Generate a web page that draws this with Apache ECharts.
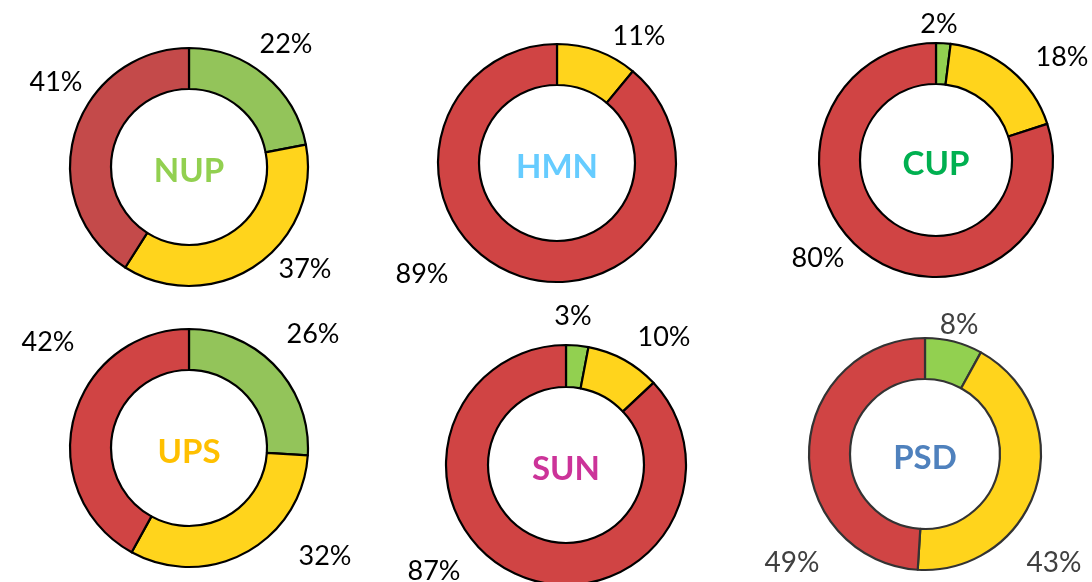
<!DOCTYPE html>
<html>
<head>
<meta charset="utf-8">
<script src="https://cdn.jsdelivr.net/npm/echarts@6/dist/echarts.min.js"></script>
<style>
  html, body { margin: 0; padding: 0; background: #fff; }
  #chart-panel { width: 1092px; height: 582px; }
</style>
</head>
<body>
<div id="chart-panel"></div>
<script>
// data (shares in %)
const units = ["NUP", "HMN", "CUP", "UPS", "SUN", "PSD"]
const nupStatus = ["Green", "Yellow", "Red"]
const nupShares = [22, 37, 41]
const hmnStatus = ["Yellow", "Red"]
const hmnShares = [11, 89]
const cupStatus = ["Green", "Yellow", "Red"]
const cupShares = [2, 18, 80]
const upsStatus = ["Green", "Yellow", "Red"]
const upsShares = [26, 32, 42]
const sunStatus = ["Green", "Yellow", "Red"]
const sunShares = [3, 10, 87]
const psdStatus = ["Green", "Yellow", "Red"]
const psdShares = [8, 43, 49]

const statusList = [nupStatus, hmnStatus, cupStatus, upsStatus, sunStatus, psdStatus]
const sharesList = [nupShares, hmnShares, cupShares, upsShares, sunShares, psdShares]

// look
const sliceColor = {
  Green: "#92D050",
  Yellow: "#FFD41C",
  Red: "#D04444"
}
const nameColor = ["#92D050", "#66CCFF", "#00B050", "#FFC000", "#CC3399", "#4F81BD"]
const centers = [[189, 167], [557, 163], [936, 160], [189, 448], [566, 465], [925, 454]]
const radii = [[78, 119], [78, 119], [76, 117], [78, 119], [78, 120], [75, 116]]
// where each percent label sits, relative to the donut centre
const labelSpots = [
  [[97, -123], [116, 102], [-133, -85]],
  [[82, -127], [-135, 111]],
  [[3, -136], [126, -103], [-118, 98]],
  [[124, -114], [136, 108], [-141, -106]],
  [[7, -149], [98, -128], [-132, 106]],
  [[34, -129], [129, 109], [-133, 109]]
]

const chart = echarts.init(document.getElementById("chart-panel"), null, { renderer: "canvas" })

const series = units.map((u, k) => {
  const c = centers[k]
  const isPsd = u === "PSD"
  const isOld = u === "NUP"
  const mutedGreen = u === "NUP" || u === "UPS"
  return {
    type: "pie",
    name: u,
    center: c,
    radius: radii[k],
    startAngle: 90,
    clockwise: true,
    avoidLabelOverlap: false,
    silent: true,
    animation: false,
    itemStyle: {
      borderColor: isPsd ? "#333333" : "#000000",
      borderWidth: 2.2
    },
    label: {
      show: true,
      position: "outside",
      formatter: "{c}%",
      fontFamily: "Lato",
      fontSize: isPsd ? 28 : 27,
      color: isPsd ? "#404040" : "#000000"
    },
    labelLine: { show: false },
    labelLayout: (p) => {
      const o = labelSpots[k][p.dataIndex]
      return { x: c[0] + o[0], y: c[1] + o[1], align: "center", verticalAlign: "middle" }
    },
    data: statusList[k].map((s, i) => ({
      name: s,
      value: sharesList[k][i],
      itemStyle: {
        color: isOld && s === "Red" ? "#C44A4A" : (mutedGreen && s === "Green" ? "#93C45A" : sliceColor[s])
      }
    }))
  }
})

const names = units.map((u, k) => ({
  type: "text",
  x: centers[k][0],
  y: centers[k][1] + 4,
  style: {
    text: u,
    fill: nameColor[k],
    font: "bold 33px Lato",
    align: "center",
    verticalAlign: "middle"
  }
}))

chart.setOption({
  backgroundColor: "#ffffff",
  animation: false,
  series: series,
  graphic: names
})
</script>
</body>
</html>
